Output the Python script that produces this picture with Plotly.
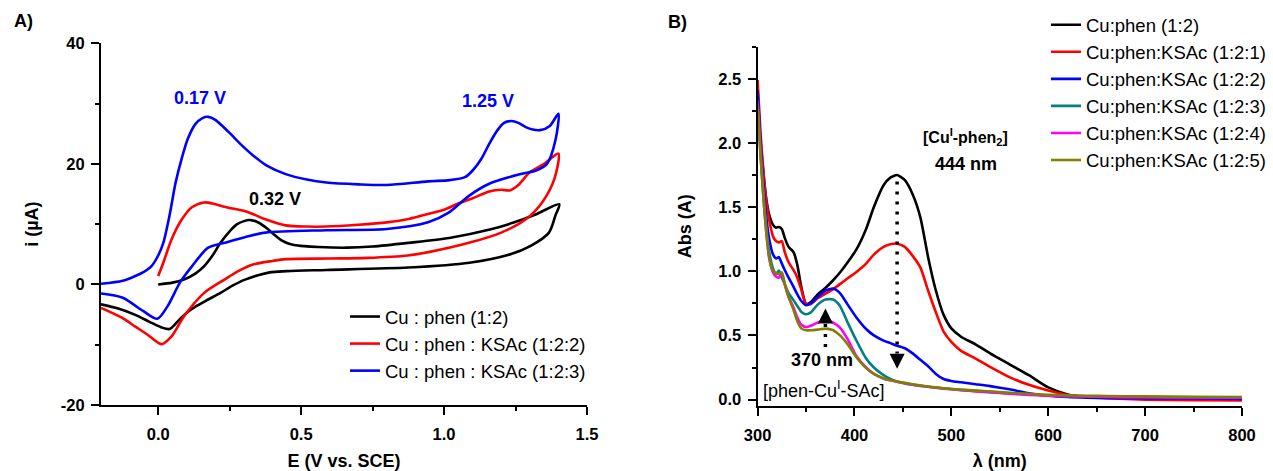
import plotly.graph_objects as go

# ---------------- Panel A: cyclic voltammograms ----------------
cv_names = ["Cu : phen (1:2)", "Cu : phen : KSAc (1:2:2)", "Cu : phen : KSAc (1:2:3)"]
cv_colors = ["#000000", "#FF0000", "#0000FF"]

black_E = [0.0, 0.05, 0.09, 0.13, 0.161, 0.19, 0.218, 0.25, 0.275, 0.30, 0.318, 0.345, 0.375, 0.405,
           0.432, 0.455, 0.475, 0.51, 0.56, 0.661, 0.75, 0.875, 1.018, 1.16, 1.246, 1.32, 1.403, 1.39,
           1.367, 1.303, 1.232, 1.089, 0.875, 0.589, 0.45, 0.39, 0.304, 0.26, 0.218, 0.175, 0.133,
           0.10, 0.075, 0.04, 0.01, -0.03, -0.082, -0.14, -0.2]
black_i = [0.0, 0.3, 0.83, 1.8, 3.04, 4.8, 6.9, 8.8, 9.96, 10.5, 10.7, 10.4, 9.5, 8.3,
           7.3, 6.8, 6.55, 6.35, 6.2, 6.1, 6.3, 6.9, 7.7, 9.1, 10.3, 11.6, 13.3, 11.5,
           8.6, 6.4, 5.0, 3.6, 2.8, 2.4, 2.2, 2.0, 0.8, -0.2, -1.4, -2.5, -3.6,
           -4.7, -5.8, -7.4, -7.1, -6.2, -5.0, -4.0, -3.3]

red_E = [0.0, 0.018, 0.047, 0.083, 0.118, 0.161, 0.20, 0.232, 0.27, 0.303, 0.34, 0.375, 0.446, 0.52,
         0.588, 0.70, 0.80, 0.88, 0.944, 1.0, 1.044, 1.10, 1.158, 1.20, 1.23, 1.26, 1.30, 1.35, 1.40,
         1.386, 1.343, 1.286, 1.20, 1.087, 0.95, 0.873, 0.73, 0.60, 0.446, 0.40, 0.332, 0.28, 0.232,
         0.161, 0.09, 0.047, 0.011, -0.038, -0.08, -0.124, -0.2]
red_i = [1.4, 3.6, 7.5, 10.8, 12.8, 13.6, 13.3, 12.9, 12.5, 12.2, 11.5, 10.8, 9.8, 9.6,
         9.6, 9.9, 10.3, 10.9, 11.7, 12.4, 13.3, 14.3, 15.4, 15.7, 15.6, 16.5, 18.6, 20.0, 21.7,
         17.5, 13.6, 10.8, 8.6, 6.9, 5.4, 4.8, 4.4, 4.3, 4.2, 3.9, 3.3, 2.2, 0.8,
         -1.4, -5.3, -8.6, -9.9, -8.3, -7.0, -5.6, -3.9]

blue_E = [-0.2, -0.124, -0.08, -0.05, -0.024, 0.0, 0.018, 0.04, 0.061, 0.083, 0.104, 0.13, 0.155,
          0.175, 0.20, 0.246, 0.29, 0.332, 0.38, 0.446, 0.52, 0.588, 0.70, 0.80, 0.944, 1.02, 1.073,
          1.10, 1.13, 1.16, 1.187, 1.21, 1.236, 1.26, 1.286, 1.31, 1.336, 1.37, 1.40, 1.39, 1.36,
          1.322, 1.258, 1.158, 1.087, 1.016, 0.944, 0.80, 0.588, 0.375, 0.30, 0.232, 0.175, 0.118,
          0.076, 0.033, -0.003, -0.053, -0.124, -0.2]
blue_i = [0.1, 0.6, 1.4, 2.1, 3.0, 4.8, 6.9, 11.5, 16.9, 21.0, 24.2, 26.6, 27.6,
          27.8, 27.3, 25.3, 23.2, 21.4, 19.7, 18.3, 17.4, 16.9, 16.6, 16.5, 17.1, 17.3, 17.8,
          18.9, 20.8, 23.5, 25.6, 26.8, 27.1, 26.8, 26.1, 25.7, 25.6, 26.3, 28.3, 24.0, 20.0,
          18.9, 18.2, 16.7, 14.7, 11.9, 10.3, 9.2, 9.0, 8.6, 7.8, 6.9, 6.1, 3.0,
          0.3, -3.6, -5.7, -4.4, -2.2, -1.5]

cv_E = [black_E, red_E, blue_E]
cv_i = [black_i, red_i, blue_i]

cv_xticks = [0.0, 0.5, 1.0, 1.5]
cv_yticks = [-20, 0, 20, 40]
cv_yticktext = ["-20", "0", "20", "40"]

# ---------------- Panel B: UV-vis spectra ----------------
uv_names = ["Cu:phen (1:2)", "Cu:phen:KSAc (1:2:1)", "Cu:phen:KSAc (1:2:2)",
            "Cu:phen:KSAc (1:2:3)", "Cu:phen:KSAc (1:2:4)", "Cu:phen:KSAc (1:2:5)"]
uv_colors = ["#000000", "#FF0000", "#0000FF", "#008080", "#FF00FF", "#808000"]

wavelength = [300, 303, 306, 309, 312, 316, 319, 322, 325, 328, 332, 337, 341, 345, 350, 355, 362,
              370, 378, 385, 393, 402, 412, 420, 430, 437, 444, 452, 460, 468, 476, 484, 492, 500,
              510, 525, 540, 560, 580, 600, 620, 640, 660, 700, 750, 800]

abs_1_2 = [2.36, 2.02, 1.76, 1.56, 1.44, 1.36, 1.34, 1.345, 1.33, 1.26, 1.19, 1.15, 1.05, 0.88, 0.745,
           0.76, 0.82, 0.87, 0.93, 0.99, 1.07, 1.17, 1.33, 1.50, 1.67, 1.73, 1.75, 1.71, 1.60, 1.42,
           1.11, 0.85, 0.66, 0.555, 0.49, 0.43, 0.36, 0.275, 0.19, 0.095, 0.04, 0.02, 0.013, 0.008,
           0.005, 0.003]
abs_1_2_1 = [2.49, 2.08, 1.78, 1.55, 1.40, 1.27, 1.235, 1.225, 1.235, 1.15, 1.07, 1.01, 0.95, 0.86,
             0.745, 0.745, 0.79, 0.825, 0.86, 0.90, 0.945, 0.995, 1.06, 1.13, 1.19, 1.21, 1.215,
             1.19, 1.12, 1.03, 0.85, 0.68, 0.53, 0.45, 0.38, 0.32, 0.255, 0.175, 0.115, 0.07, 0.035,
             0.02, 0.01, 0.0, -0.004, -0.006]
abs_1_2_2 = [2.41, 2.0, 1.68, 1.42, 1.25, 1.13, 1.10, 1.11, 1.06, 1.01, 0.95, 0.88, 0.82, 0.77,
             0.735, 0.75, 0.80, 0.85, 0.865, 0.83, 0.74, 0.64, 0.55, 0.50, 0.46, 0.44, 0.42, 0.40,
             0.36, 0.31, 0.26, 0.20, 0.16, 0.145, 0.135, 0.12, 0.105, 0.08, 0.05, 0.03, 0.02, 0.015,
             0.012, 0.01, 0.008, 0.005]
abs_1_2_3 = [2.33, 1.95, 1.62, 1.35, 1.15, 1.02, 0.98, 1.005, 0.95, 0.90, 0.83, 0.775, 0.73, 0.685,
             0.665, 0.68, 0.74, 0.78, 0.78, 0.73, 0.60, 0.46, 0.32, 0.25, 0.19, 0.16, 0.14, 0.125,
             0.115, 0.108, 0.10, 0.093, 0.087, 0.082, 0.076, 0.068, 0.06, 0.048, 0.04, 0.032, 0.027,
             0.024, 0.022, 0.02, 0.017, 0.015]
abs_1_2_4 = [2.30, 1.92, 1.58, 1.30, 1.10, 0.99, 0.96, 0.95, 0.99, 0.90, 0.80, 0.72, 0.64, 0.585,
             0.565, 0.575, 0.60, 0.62, 0.60, 0.56, 0.47, 0.34, 0.25, 0.20, 0.165, 0.15, 0.14, 0.127,
             0.115, 0.107, 0.10, 0.092, 0.085, 0.08, 0.073, 0.064, 0.056, 0.046, 0.037, 0.03, 0.026,
             0.023, 0.021, 0.018, 0.016, 0.014]
abs_1_2_5 = [2.28, 1.90, 1.57, 1.30, 1.11, 1.00, 0.985, 0.98, 0.99, 0.90, 0.80, 0.70, 0.61, 0.555,
             0.54, 0.54, 0.545, 0.553, 0.54, 0.50, 0.43, 0.33, 0.245, 0.20, 0.165, 0.15, 0.14, 0.13,
             0.12, 0.11, 0.102, 0.095, 0.088, 0.083, 0.077, 0.07, 0.063, 0.053, 0.045, 0.038, 0.033,
             0.03, 0.028, 0.025, 0.022, 0.02]
uv_abs = [abs_1_2, abs_1_2_1, abs_1_2_2, abs_1_2_3, abs_1_2_4, abs_1_2_5]

uv_xticks = [300, 400, 500, 600, 700, 800]
uv_yticks = [0.0, 0.5, 1.0, 1.5, 2.0, 2.5]

# annotation arrows (wavelength, dotted from, dotted to, arrow tip)
arrow_444 = (444, 1.70, 0.36, 0.24)
arrow_370 = (370, 0.41, 0.60, 0.71)

FONT = "Liberation Sans, Arial, Helvetica, sans-serif"
W, H = 1273, 471

fig = go.Figure()

for name, col, xs, ys in zip(cv_names, cv_colors, cv_E, cv_i):
    fig.add_trace(go.Scatter(x=xs, y=ys, mode="lines", name=name,
                             line=dict(color=col, width=2.6, shape="spline", smoothing=0.8),
                             xaxis="x", yaxis="y", legend="legend"))

for name, col, ys in zip(uv_names, uv_colors, uv_abs):
    fig.add_trace(go.Scatter(x=wavelength, y=ys, mode="lines", name=name,
                             line=dict(color=col, width=2.6, shape="spline", smoothing=0.6),
                             xaxis="x2", yaxis="y2", legend="legend2"))

# arrow heads
fig.add_trace(go.Scatter(x=[arrow_444[0]], y=[arrow_444[3]], mode="markers", showlegend=False,
                         marker=dict(symbol="arrow-down", size=15, color="black"),
                         xaxis="x2", yaxis="y2", hoverinfo="skip"))
fig.add_trace(go.Scatter(x=[arrow_370[0]], y=[arrow_370[3]], mode="markers", showlegend=False,
                         marker=dict(symbol="arrow-up", size=15, color="black"),
                         xaxis="x2", yaxis="y2", hoverinfo="skip"))

shapes = []
for ax in (arrow_444, arrow_370):
    shapes.append(dict(type="line", xref="x2", yref="y2", x0=ax[0], x1=ax[0], y0=ax[1], y1=ax[2],
                       line=dict(color="black", width=3.5, dash="3px,7px")))

axis_common = dict(showline=True, linecolor="black", linewidth=2, ticks="outside", ticklen=8,
                   tickwidth=2, tickcolor="black", showgrid=False, zeroline=False,
                   tickfont=dict(family=FONT, size=16.5, color="black", weight="bold"),
                   mirror=False, automargin=False)

TITLE_FONT = dict(family=FONT, size=18, color="black", weight="bold")

fig.update_layout(
    width=W, height=H, margin=dict(l=0, r=0, t=0, b=0, autoexpand=False),
    paper_bgcolor="white", plot_bgcolor="white",
    font=dict(family=FONT, color="black"),
    xaxis=dict(domain=[101 / W, 587 / W], range=[-0.2, 1.5], tickvals=cv_xticks,
               tickformat=".1f", anchor="y",
               minor=dict(dtick=0.25, tick0=0, ticklen=4, tickwidth=2, tickcolor="black",
                          ticks="outside"),
               ticklabelstandoff=5,
               title=dict(text="E (V vs. SCE)", font=TITLE_FONT, standoff=18),
               **axis_common),
    yaxis=dict(domain=[(H - 405) / H, (H - 43.3) / H], range=[-20, 40], tickvals=cv_yticks,
               ticktext=cv_yticktext, anchor="x",
               minor=dict(dtick=10, tick0=0, ticklen=4, tickwidth=2, tickcolor="black",
                          ticks="outside"),
               ticklabelstandoff=3,
               title=dict(text="i (µA)", font=TITLE_FONT, standoff=18),
               **axis_common),
    xaxis2=dict(domain=[757.6 / W, 1242 / W], range=[300, 800], tickvals=uv_xticks, anchor="y2",
                minor=dict(dtick=50, tick0=300, ticklen=4, tickwidth=2, tickcolor="black",
                           ticks="outside"),
                ticklabelstandoff=5,
                title=dict(text="λ (nm)", font=TITLE_FONT, standoff=18),
                **axis_common),
    yaxis2=dict(domain=[(H - 406) / H, (H - 46.7) / H], range=[-0.05, 2.75], tickvals=uv_yticks,
                tickformat=".1f", anchor="x2",
                minor=dict(dtick=0.25, tick0=0, ticklen=4, tickwidth=2, tickcolor="black",
                           ticks="outside"),
                ticklabelstandoff=3,
                title=dict(text="Abs (A)", font=TITLE_FONT, standoff=22),
                **axis_common),
    legend=dict(x=345 / W, xanchor="left", y=(H - 344) / H, yanchor="middle",
                font=dict(family=FONT, size=18.5, color="black"), bgcolor="rgba(0,0,0,0)",
                borderwidth=0, tracegroupgap=0),
    legend2=dict(x=1046 / W, xanchor="left", y=(H - 92.7) / H, yanchor="middle",
                 font=dict(family=FONT, size=18.5, color="black"), bgcolor="rgba(0,0,0,0)",
                 borderwidth=0, tracegroupgap=0),
    shapes=shapes,
    showlegend=True,
)

annotations = [
    dict(text="<b>A)</b>", x=23 / W, y=(H - 21) / H, xref="paper", yref="paper",
         xanchor="center", yanchor="middle",
         showarrow=False, font=dict(size=18, family=FONT, color="black")),
    dict(text="<b>B)</b>", x=678 / W, y=(H - 22) / H, xref="paper", yref="paper",
         xanchor="center", yanchor="middle",
         showarrow=False, font=dict(size=18, family=FONT, color="black")),
    dict(text="<b>0.17 V</b>", x=0.146, y=30.9, xref="x", yref="y", showarrow=False,
         font=dict(size=18, family=FONT, color="#0000FF")),
    dict(text="<b>1.25 V</b>", x=1.153, y=30.4, xref="x", yref="y", showarrow=False,
         font=dict(size=18, family=FONT, color="#0000FF")),
    dict(text="<b>0.32 V</b>", x=0.408, y=14.1, xref="x", yref="y", showarrow=False,
         font=dict(size=18, family=FONT, color="black")),
    dict(text="<b>[Cu<sup>I</sup>-phen<sub>2</sub>]</b>", x=515, y=2.044, xref="x2", yref="y2",
         showarrow=False, font=dict(size=16, family=FONT, color="black")),
    dict(text="<b>444 nm</b>", x=515, y=1.834, xref="x2", yref="y2", showarrow=False,
         font=dict(size=18, family=FONT, color="black")),
    dict(text="<b>370 nm</b>", x=366.3, y=0.306, xref="x2", yref="y2", showarrow=False,
         font=dict(size=18, family=FONT, color="black")),
    dict(text="[phen-Cu<sup>I</sup>-SAc]", x=368.3, y=0.078, xref="x2", yref="y2", showarrow=False,
         font=dict(size=18, family=FONT, color="black")),
]
fig.update_layout(annotations=annotations)

fig.write_html("out.html")
